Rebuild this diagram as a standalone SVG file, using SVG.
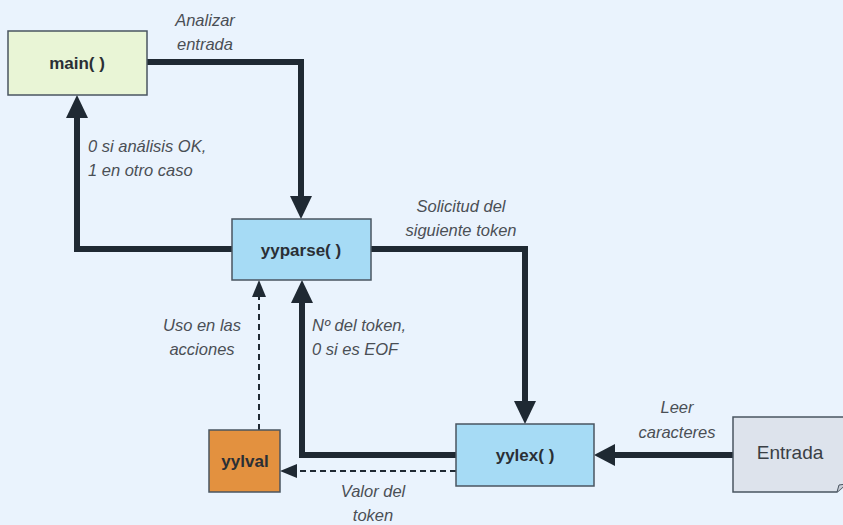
<svg xmlns="http://www.w3.org/2000/svg" width="843" height="525" viewBox="0 0 843 525">
<style>
.node{stroke:#4a5560;stroke-width:1.5}
.lbl{font-family:"Liberation Sans",Arial,sans-serif;font-weight:bold;font-size:17px;fill:#2a2f35;text-anchor:middle}
.el{font-family:"Liberation Sans",Arial,sans-serif;font-style:italic;font-size:16.5px;fill:#4a4f55}
.thick{fill:none;stroke:#1f2933;stroke-width:6;stroke-linejoin:miter}
.dash{fill:none;stroke:#1f2933;stroke-width:2;stroke-dasharray:6,4}
.head{fill:#1f2933}
</style>
<rect width="843" height="525" fill="#eaf3fd"/>
<g id="connectors">
<polyline class="thick" points="147,62 301,62 301,198"/>
<polygon class="head" points="290,196 312,196 301,219"/>
<polyline class="thick" points="232,249 77,249 77,117"/>
<polygon class="head" points="66,118 88,118 77,95"/>
<polyline class="thick" points="371,249 525,249 525,403"/>
<polygon class="head" points="514,401 536,401 525,424"/>
<polyline class="thick" points="456,455 302,455 302,302"/>
<polygon class="head" points="291,303 313,303 302,280"/>
<polyline class="thick" points="733,455 614,455"/>
<polygon class="head" points="615,444 615,466 594,455"/>
<polyline class="dash" points="259,430 259,296"/>
<polygon class="head" points="252,297 266,297 259,280"/>
<polyline class="dash" points="456,471 296,471"/>
<polygon class="head" points="297,464 297,478 280,471"/>
</g>
<g id="main">
<rect class="node" x="8" y="31" width="139" height="64" fill="#e9f5d6"/>
<text class="lbl" x="77" y="69">main( )</text>
</g>
<g id="yyparse">
<rect class="node" x="232" y="219" width="139" height="61" fill="#a6dbf5"/>
<text class="lbl" x="301" y="256">yyparse( )</text>
</g>
<g id="yylex">
<rect class="node" x="456" y="424" width="138" height="62" fill="#a6dbf5"/>
<text class="lbl" x="525" y="461">yylex( )</text>
</g>
<g id="yylval">
<rect class="node" x="209" y="430" width="71" height="62" fill="#e3913f"/>
<text class="lbl" x="245" y="467">yylval</text>
</g>
<g id="entrada">
<path class="node" d="M733,417 H846 V484 L837,492 H733 Z" fill="#dde3ec"/>
<path d="M837,492 L839,485 L846,484" fill="#c8ced8" stroke="#4a5560" stroke-width="1"/>
<text x="790" y="459" font-family="'Liberation Sans',Arial,sans-serif" font-size="19" fill="#3a3f45" text-anchor="middle">Entrada</text>
</g>
<g id="edge-labels">
<text class="el" x="205" y="26" text-anchor="middle">Analizar</text>
<text class="el" x="205" y="50" text-anchor="middle">entrada</text>
<text class="el" x="88" y="152">0 si análisis OK,</text>
<text class="el" x="88" y="176">1 en otro caso</text>
<text class="el" x="461" y="212" text-anchor="middle">Solicitud del</text>
<text class="el" x="461" y="236" text-anchor="middle">siguiente token</text>
<text class="el" x="202" y="331" text-anchor="middle">Uso en las</text>
<text class="el" x="202" y="355" text-anchor="middle">acciones</text>
<text class="el" x="312" y="331">Nº del token,</text>
<text class="el" x="312" y="355">0 si es EOF</text>
<text class="el" x="677" y="413" text-anchor="middle">Leer</text>
<text class="el" x="677" y="438" text-anchor="middle">caracteres</text>
<text class="el" x="373" y="497" text-anchor="middle">Valor del</text>
<text class="el" x="373" y="521" text-anchor="middle">token</text>
</g>
</svg>
